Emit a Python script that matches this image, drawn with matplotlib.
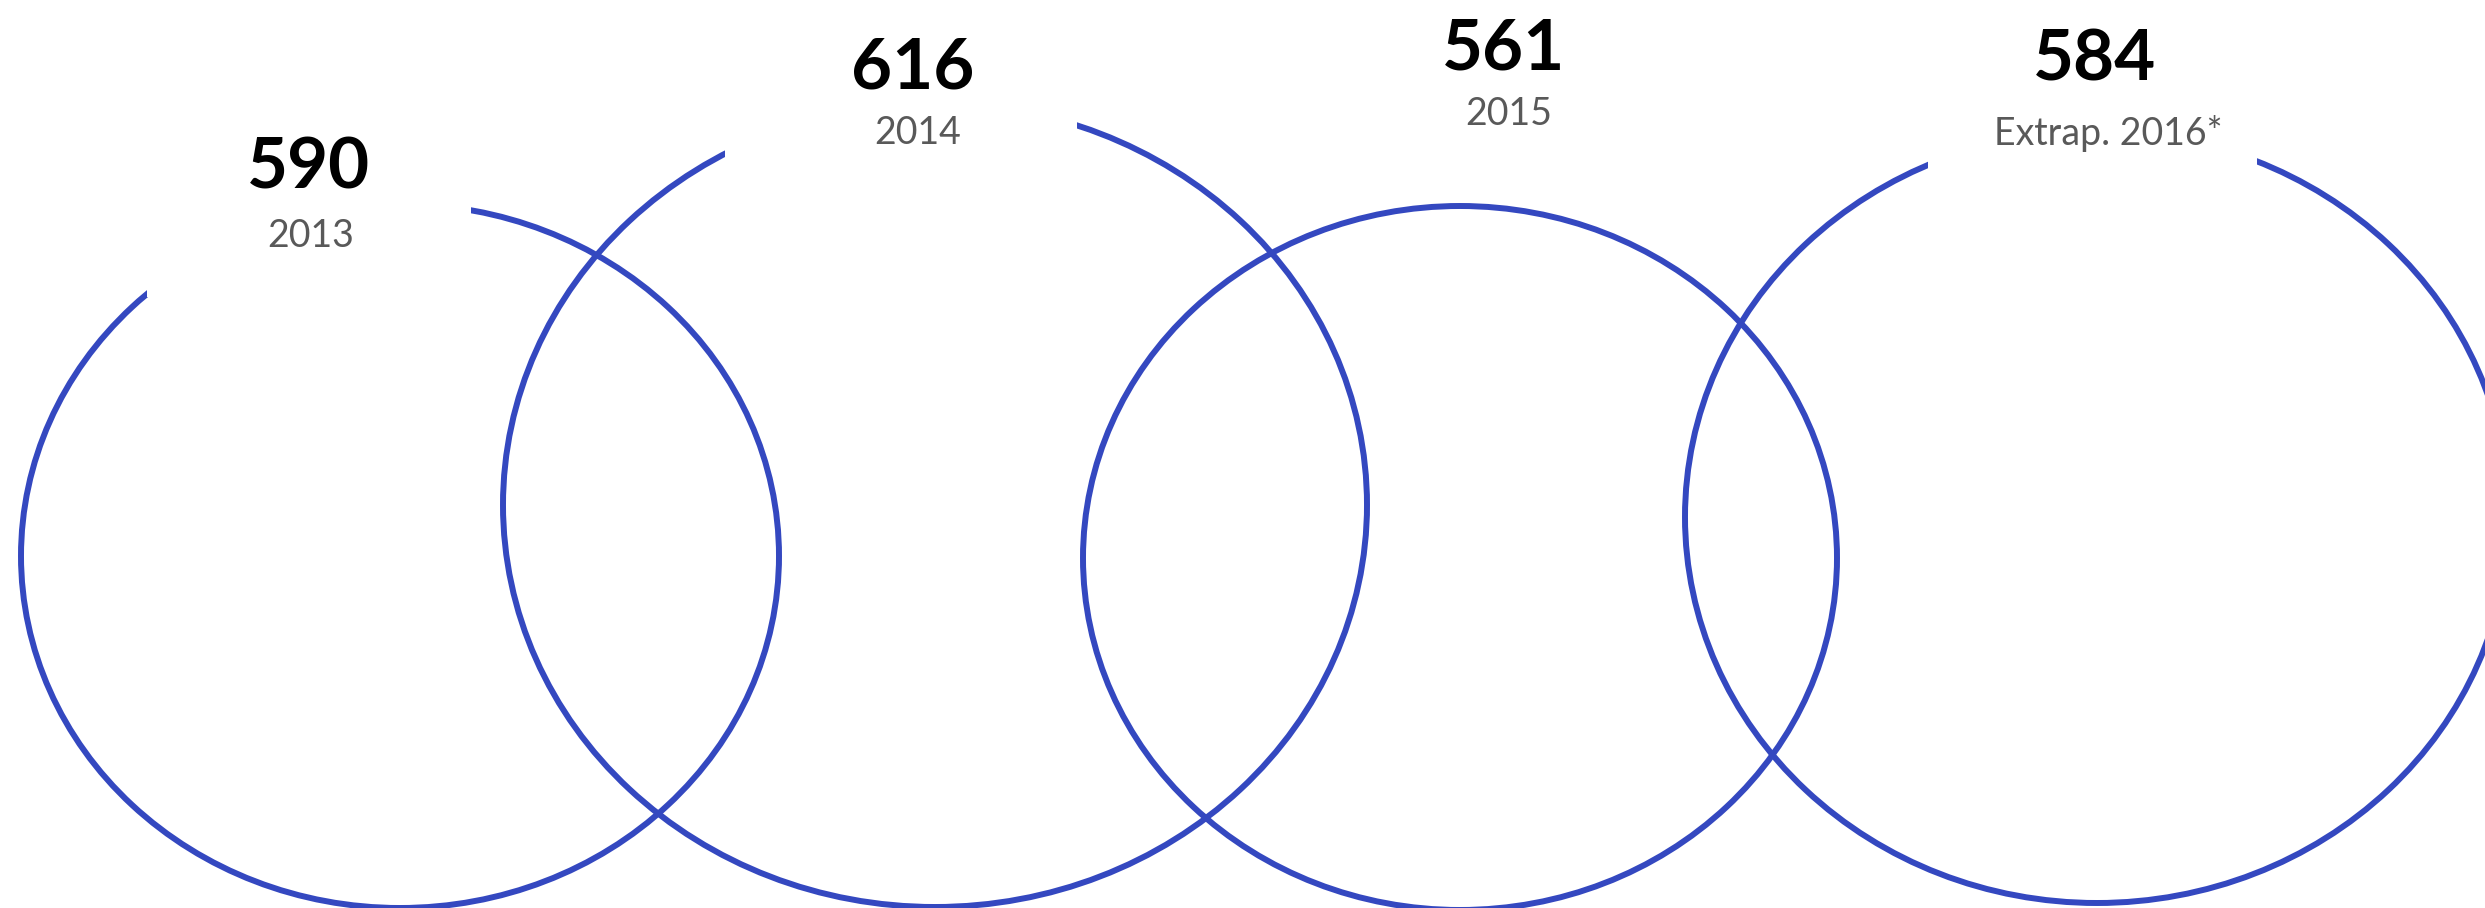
import matplotlib
matplotlib.use("Agg")
import matplotlib.pyplot as plt
from matplotlib.patches import Ellipse, Rectangle

# values shown above each circle
values = [590, 616, 561, 584]
years = ["2013", "2014", "2015", "Extrap. 2016*"]

# layout in image pixels (x from left, y from top)
W, H = 2485, 908
centers_x = [400, 935, 1460, 2097]
centers_y = [556, 505, 558, 517]
radii_x = [379, 432, 377, 412]
radii_y = [352, 402, 352, 386]
value_pos = [(308, 168), (913, 68), (1504, 49), (2095, 60)]
year_pos = [(311, 236), (918, 133), (1509, 114), (2108, 133)]
# white label boxes that hide the top of the circles (x0, x1, y_bottom)
label_boxes = [(147, 471, 297), (725, 1077, 185), None, (1928, 2257, 190)]

line_color = "#3448C0"

fig = plt.figure(figsize=(W / 100, H / 100), dpi=100)
ax = fig.add_axes([0, 0, 1, 1])
ax.set_xlim(0, W)
ax.set_ylim(0, H)
ax.axis("off")

for cx, cy, rx, ry in zip(centers_x, centers_y, radii_x, radii_y):
    ax.add_patch(Ellipse((cx, H - cy), 2 * rx, 2 * ry, fill=False,
                         edgecolor=line_color, lw=4.3, zorder=1))

for box in label_boxes:
    if box is None:
        continue
    x0, x1, yb = box
    ax.add_patch(Rectangle((x0, H - yb), x1 - x0, yb, facecolor="white",
                           edgecolor="none", zorder=2))

for v, (x, y) in zip(values, value_pos):
    ax.text(x, H - y, str(v), ha="center", va="center", fontsize=51,
            fontweight="bold", family="Lato", color="black", zorder=3)

for yr, (x, y) in zip(years, year_pos):
    ax.text(x, H - y, yr, ha="center", va="center", fontsize=27,
            family="Lato", color="#595959", zorder=3)

fig.savefig("out.png", dpi=100)
